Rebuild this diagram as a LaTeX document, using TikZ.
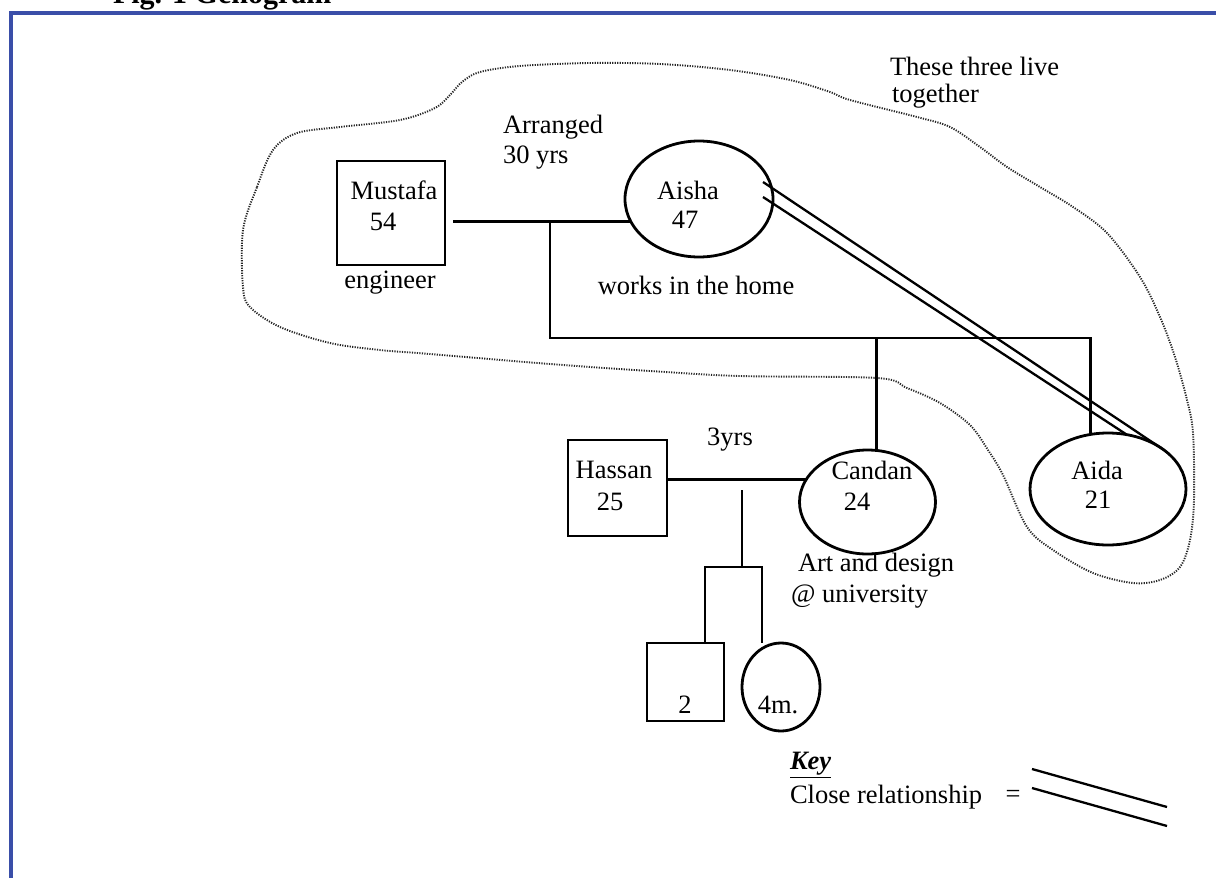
\documentclass[tikz,border=0pt]{standalone}
\usepackage{fontspec}
\setmainfont{Liberation Serif}
\usetikzlibrary{shapes.geometric,calc}
\definecolor{framebl}{RGB}{58,78,168}
\begin{document}
\begin{tikzpicture}[x=1pt,y=-1pt,
  every node/.style={inner sep=0pt, outer sep=0pt, font=\fontsize{26.5}{30}\selectfont},
  male/.style={draw, rectangle, line width=2.8pt},
  female/.style={draw, ellipse, line width=2.8pt},
  link/.style={line width=2.8pt},
  closeline/.style={line width=2.3pt},
  homecloud/.style={line width=1.9pt, dash pattern=on 1.2pt off 1.3pt, draw=black!85}]

\useasboundingbox (0,0) rectangle (1216,878);

% page frame and heading
\node[anchor=base west, font=\bfseries\fontsize{30}{34}\selectfont] (title) at (113,4) {Fig. 1 Genogram};
\draw[framebl, line width=4pt] (10.5,878) -- (10.5,12.5) -- (1216,12.5);

% household boundary
\draw[homecloud] plot[smooth cycle, tension=0.55] coordinates {
  (243,230) (257,187) (273,150) (297,133) (340,127) (400,120) (435,108)
  (450,95) (462,82) (480,72) (520,66) (590,63) (660,64) (730,70) (790,80)
  (830,92) (850,100) (917,117) (950,127) (980,147) (1007,167) (1040,187)
  (1073,207) (1107,233) (1140,277) (1160,317) (1175,357) (1187,400)
  (1193,433) (1194,500) (1190,540) (1180,567) (1160,580) (1133,583)
  (1093,573) (1053,550) (1027,527) (1003,475) (988,450) (970,425)
  (940,403) (907,388) (877,378) (740,376) (650,371) (550,364) (430,354)
  (380,350) (330,343) (280,327) (250,307) (243,287)};

% people
\node[male, minimum width=108pt, minimum height=104pt] (mustafa) at (391,213) {};
\node[female, minimum width=148pt, minimum height=116pt] (aisha) at (699,199) {};
\node[female, minimum width=136pt, minimum height=104pt] (candan) at (867.5,502) {};
\node[female, minimum width=156pt, minimum height=112pt] (aida) at (1108,489) {};
\node[male, minimum width=99pt, minimum height=96pt] (hassan) at (617.5,488) {};
\node[male, minimum width=77pt, minimum height=78pt] (son) at (685.5,682) {};
\node[female, minimum width=78pt, minimum height=88pt] (daughter) at (781,687) {};

% names, ages and notes
\node (tmustafa) at (394,190) {Mustafa};
\node (amustafa) at (383,222) {54};
\node (jmustafa) at (390,283) {engineer};
\node[anchor=west] (marr1) at (503,127) {Arranged};
\node[anchor=west] (marr2) at (503,158) {30 yrs};
\node (taisha) at (688,190) {Aisha};
\node (aaisha) at (685,220) {47};
\node (jaisha) at (696,285) {works in the home};
\node[anchor=west] (live1) at (890,66) {These three live};
\node[anchor=west] (live2) at (892,96) {together};
\node (marr3) at (730,440) {3yrs};
\node (thassan) at (614,470) {Hassan};
\node (ahassan) at (610,502) {25};
\node (tcandan) at (872,470) {Candan};
\node (acandan) at (857,502) {24};
\node[anchor=west] (jcandan1) at (798,565) {Art and design};
\node[anchor=west] (jcandan2) at (791,597) {@ university};
\node (taida) at (1097,470) {Aida};
\node (aaida) at (1098,500) {21};
\node (ason) at (685,705) {2};
\node (adaughter) at (778,705) {4m.};

% marriage Mustafa - Aisha and their children
\coordinate (mline) at ([xshift=8pt]mustafa.east);
\draw[link] (mline |- aisha.198) -- (aisha.198);
\coordinate (fam) at (550,338);
\draw[link] (fam |- aisha.198) -- (fam) -- (aida.108 |- fam) -- (aida.108);
\draw[link] (candan.80 |- fam) -- (candan.80);

% marriage Hassan - Candan and their children
\draw[link] (hassan.east |- candan.160) -- (candan.160);
\coordinate (kidtop) at (742,490);
\coordinate (kids) at (742,567);
\draw[link] (kidtop) -- (kids);
\draw[link] ([xshift=19.5pt]son.north) |- (kids) -| ([xshift=-19pt]daughter.north);

% close relationship Aisha - Aida
\coordinate (cl1) at ($(aisha.center)+(64,-17)$);
\coordinate (cl2) at ($(aisha.center)+(64,-2)$);
\draw[closeline] (cl1) -- (aida.35);
\draw[closeline] (cl2) -- (aida.71);

% key
\node[anchor=west] (keyhead) at (790,765) {\underline{\textbf{\textit{Key}}}};
\node[anchor=west] (keytext) at (790,797) {Close relationship};
\node (keyeq) at (1013,796) {=};
\coordinate (ka1) at (1032,769);
\coordinate (ka2) at (1167,807);
\coordinate (kb1) at (1032,788);
\coordinate (kb2) at (1167,826);
\draw[closeline] (ka1) -- (ka2);
\draw[closeline] (kb1) -- (kb2);
\end{tikzpicture}
\end{document}
